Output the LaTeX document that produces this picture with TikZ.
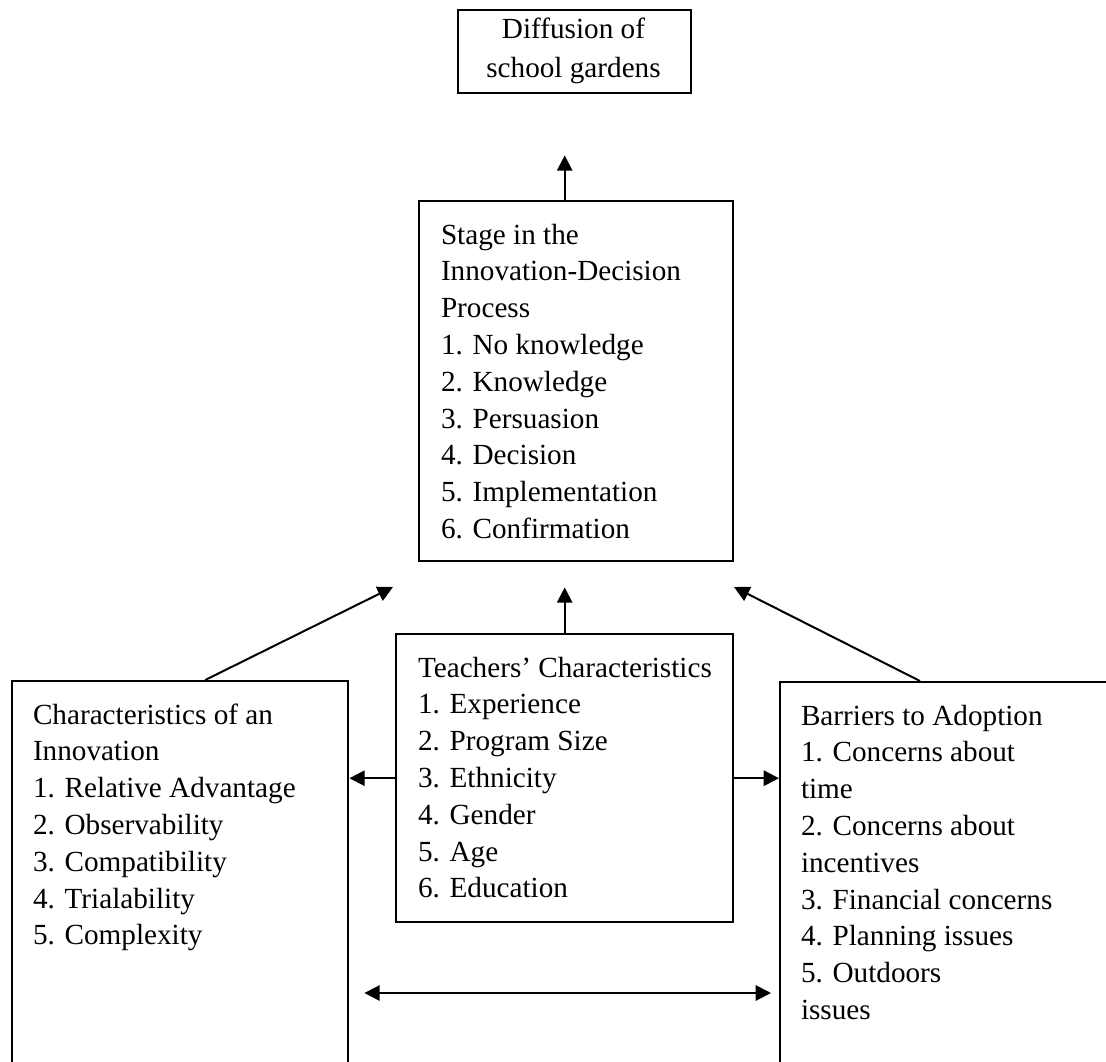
\documentclass[tikz,border=0pt]{standalone}
\usepackage{fontspec}
\setmainfont{Liberation Serif}
\usetikzlibrary{arrows.meta}
\begin{document}
\begin{tikzpicture}[x=0.75pt,y=-0.75pt,line width=1.5pt,
  box/.style={draw,rectangle,inner sep=0pt,anchor=north west,line width=1.8pt},
  txt/.style={inner sep=0pt,anchor=base west,font=\fontsize{21.9}{27.6}\selectfont},
  arr/.style={-{Triangle[length=11.5pt,width=11.5pt]}},
  darr/.style={{Triangle[length=11.5pt,width=11.5pt]}-{Triangle[length=11.5pt,width=11.5pt]}}]
\useasboundingbox (0,0) rectangle (1106,1061);
\clip (0,0) rectangle (1106,1061);
% boxes
\node[box,minimum width=174.75pt,minimum height=62.25pt] (diff) at (457,9) {};
\node[box,minimum width=235.5pt,minimum height=270pt] (stage) at (418,200) {};
\node[box,minimum width=252.75pt,minimum height=216pt] (teach) at (395,633) {};
\node[box,minimum width=252pt,minimum height=375pt] (left) at (11,680) {};
\node[box,minimum width=300pt,minimum height=375pt] (right) at (779,681) {};
% texts
\node[txt,anchor=base] (diffT) at (573.5,38) {\begin{tabular}[t]{@{}c@{}}Diffusion of\\[2pt] school gardens\end{tabular}};
\node[txt] (stageT) at (440,244) {\begin{tabular}[t]{@{}l@{}}Stage in the\\ Innovation-Decision\\ Process\\ 1. No knowledge\\ 2. Knowledge\\ 3. Persuasion\\ 4. Decision\\ 5. Implementation\\ 6. Confirmation\end{tabular}};
\node[txt] (teachT) at (417,677) {\begin{tabular}[t]{@{}l@{}}Teachers’ Characteristics\\ 1. Experience\\ 2. Program Size\\ 3. Ethnicity\\ 4. Gender\\ 5. Age\\ 6. Education\end{tabular}};
\node[txt] (leftT) at (32,724) {\begin{tabular}[t]{@{}l@{}}Characteristics of an\\ Innovation\\ 1. Relative Advantage\\ 2. Observability\\ 3. Compatibility\\ 4. Trialability\\ 5. Complexity\end{tabular}};
\node[txt] (rightT) at (800,725) {\begin{tabular}[t]{@{}l@{}}Barriers to Adoption\\ 1. Concerns about\\ time\\ 2. Concerns about\\ incentives\\ 3. Financial concerns\\ 4. Planning issues\\ 5. Outdoors\\ issues\end{tabular}};
% connectors
\coordinate (tipL) at (393,587);
\coordinate (tipR) at (734,587);
\coordinate (dbl) at (0,993);
\draw[arr,shorten >=45.75pt] (stage.north -| teach.north) -- (diff.south -| teach.north);
\draw[arr,shorten >=18.75pt] (teach.north) -- (teach.north |- stage.south);
\draw[arr] ([xshift=18.75pt]left.north) -- (tipL);
\draw[arr] ([xshift=105.75pt]right.north west) -- (tipR);
\draw[arr] (teach.west) -- (teach.west -| left.east);
\draw[arr] (teach.east) -- (teach.east -| right.west);
\draw[darr,shorten <=11.25pt,shorten >=6pt] (left.east |- dbl) -- (right.west |- dbl);
\end{tikzpicture}
\end{document}
